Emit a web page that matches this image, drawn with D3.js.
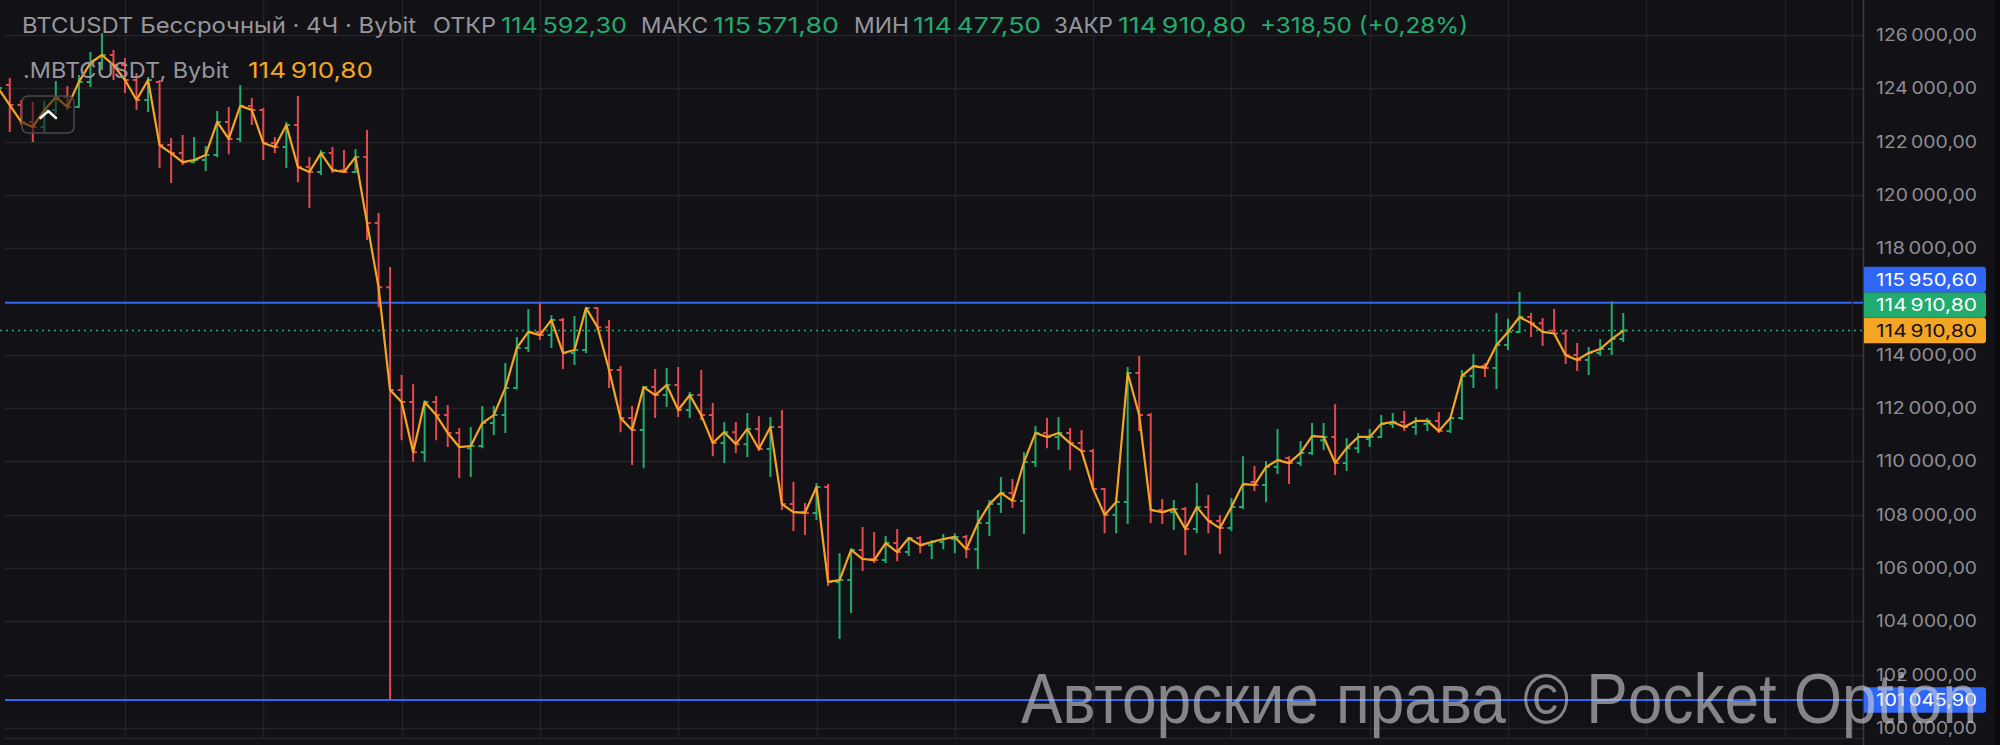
<!DOCTYPE html>
<html><head><meta charset="utf-8">
<script src="https://cdn.jsdelivr.net/npm/d3@7"></script>
<style>html,body{margin:0;padding:0;background:#121216;overflow:hidden}svg{display:block}</style>
</head><body><svg id="c" width="2000" height="745"></svg>
<script>
// ---- data (4H bars, first index -1 is the partially hidden bar at the left edge) ----
const firstIndex = -1;
const opens = [123500,124120,123370,122740,122550,123190,123670,123300,124240,124950,125250,124870,124310,123560,124240,121870,121570,121230,121310,121500,122740,122100,123340,123190,121950,121800,122620,121050,120860,121570,120930,120860,121420,118950,116540,112680,112230,110350,112230,111740,111070,110500,110580,111440,111740,112760,114260,114860,114740,115310,114070,114180,115760,115040,113430,111630,111180,112790,112490,112870,111930,112490,111740,110690,111100,110650,111220,110470,111290,108400,108100,108070,109040,105480,105550,106680,106340,106300,106940,106600,107130,106860,106980,107090,107170,106710,107690,108400,108820,108520,109980,111070,110920,111070,110690,110390,108970,107990,108480,113320,111740,108180,108100,108220,107470,108290,107770,107500,108290,109230,109120,109790,110130,109940,110320,110800,110920,109940,110500,110840,110920,111410,111480,111290,111410,111520,111140,111630,113210,113580,113510,114370,114860,115420,115190,114900,114800,113990,113810,114070,114220,114592.3];
const highs = [124300,124390,123560,123490,123520,124270,124090,124500,125360,126070,125440,125140,124570,124420,124310,122140,122250,122170,121840,123150,123300,124120,123640,123260,122170,122740,123710,121420,121690,121800,121690,121720,122440,119320,117300,113240,112900,112300,112460,112120,111260,111290,112080,112080,113690,114670,115720,115950,115490,115380,115460,115790,115790,115310,113580,112080,112830,113470,113510,113540,112610,113430,112190,111480,111480,111820,111700,111670,111930,109230,108440,109190,109150,106560,106750,107540,107350,107200,107470,107170,107200,107050,107280,107310,107240,108180,108550,109420,109340,110350,111330,111630,111670,111260,111180,110470,109000,108670,113540,113960,111820,108590,108550,108290,109190,108740,107990,108630,110200,109830,110020,111220,110200,110770,111440,111440,112150,110880,111070,111220,111740,111820,111890,111670,111630,111860,111670,113430,114030,113690,115570,115350,116360,115570,115380,115720,114930,114440,114290,114590,116000,115571.8];
const lows = [123300,122360,122620,121990,122360,123040,123190,123260,124050,124690,124310,123820,123190,123110,121010,120450,121120,121200,120900,121420,121530,121990,122620,121310,121570,121010,120480,119510,120750,120820,120820,120820,118310,115790,101045.9,110800,109980,109980,110800,110540,109380,109420,110500,110990,111070,112700,114110,114560,114260,113470,113620,114070,114930,112760,111100,109870,109750,111630,112040,111670,111630,111560,110200,109940,110320,110170,110390,109420,108180,107390,107240,107800,105330,103340,104310,105890,106190,106190,106260,106450,106560,106340,106710,106560,106380,105960,107200,108070,108250,107280,109790,110500,110430,109680,110320,108930,107310,107310,107650,111140,107690,107650,107430,106490,107310,107310,106530,107390,108220,108890,108480,109530,109150,109830,110240,110430,109490,109640,110320,110540,110880,111260,111140,110990,111140,111070,111070,111560,112760,113170,112720,114180,114820,114670,114330,114780,113660,113390,113240,113960,113990,114477.5];
const closes = [124010,123370,122740,122550,123190,123670,123300,124240,124950,125250,124870,124310,123560,124310,121870,121570,121230,121310,121500,122740,122100,123340,123190,121950,121800,122620,121050,120860,121570,120930,120860,121420,118950,116540,112680,112230,110350,112230,111740,111070,110540,110580,111440,111740,112760,114260,114860,114740,115310,114070,114180,115760,115040,113430,111630,111180,112790,112490,112870,111930,112490,111740,110690,111100,110650,111220,110470,111290,108400,108100,108070,109040,105480,105550,106680,106340,106300,106940,106600,107130,106860,106980,107090,107170,106710,107690,108400,108820,108520,109980,111070,110920,111070,110690,110390,108970,107990,108480,113320,111740,108180,108100,108220,107470,108290,107770,107500,108290,109150,109120,109790,110050,109940,110320,110950,110920,109940,110500,110920,110920,111410,111480,111290,111520,111520,111140,111630,113210,113580,113510,114370,114860,115420,115190,114860,114800,113990,113810,114070,114220,114592.3,114910.8];
const priceTicks = [100000,102000,104000,106000,108000,110000,112000,114000,116000,118000,120000,122000,124000,126000];
const levelLines = [115950.6, 101045.9];
const markPrice = 114910.8;
const symbolTitle = "BTCUSDT Бессрочный · 4Ч · Bybit";
const markTitle = ".MBTCUSDT, Bybit";
const watermark = "Авторские права © Pocket Option";

// ---- setup ----
const W = 2000, H = 745, paneRight = 1863;
const C = {bg:"#121216", grid:"#232328", up:"#22ab6e", down:"#e5484d", mark:"#f5a524",
  blue:"#2f66f6", text:"#8d8d93", head:"#96969c", border:"#3c3c42"};
const loc = d3.formatLocale({decimal:",", thousands:"\u2009", grouping:[3], currency:["",""]});
const fmt = loc.format(",.2f");

const bars = opens.map((o,k)=>({i:firstIndex+k, o, h:highs[k], l:lows[k], c:closes[k]}));
const x = d3.scaleLinear().domain([0,140]).range([9.75, 1623.25]);
const y = d3.scaleLinear().domain([100000,126000]).range([728,35]);

const svg = d3.select("#c");
svg.append("rect").attr("width",W).attr("height",H).attr("fill",C.bg);
svg.append("defs").append("clipPath").attr("id","pane").append("rect")
  .attr("x",0).attr("y",0).attr("width",paneRight).attr("height",H);

const pane = svg.append("g").attr("clip-path","url(#pane)");
// grid
pane.append("g").selectAll("line").data(priceTicks).join("line")
  .attr("x1",5).attr("x2",paneRight).attr("y1",d=>Math.round(y(d))+0.5).attr("y2",d=>Math.round(y(d))+0.5)
  .attr("stroke",C.grid).attr("stroke-width",1.3);
const vIdx = d3.range(10, 160, 12);
pane.append("g").selectAll("line").data(vIdx).join("line")
  .attr("x1",d=>Math.round(x(d))+0.5).attr("x2",d=>Math.round(x(d))+0.5).attr("y1",0).attr("y2",738)
  .attr("stroke",C.grid).attr("stroke-width",1.3);
pane.append("line").attr("x1",5).attr("x2",paneRight).attr("y1",738.5).attr("y2",738.5)
  .attr("stroke",C.grid).attr("stroke-width",1.3);

// level lines
pane.append("g").selectAll("line").data(levelLines).join("line")
  .attr("x1",5).attr("x2",paneRight).attr("y1",d=>y(d)).attr("y2",d=>y(d))
  .attr("stroke",C.blue).attr("stroke-width",2);
pane.append("line").attr("x1",0).attr("x2",paneRight).attr("y1",y(markPrice)).attr("y2",y(markPrice))
  .attr("stroke",C.up).attr("stroke-width",1.6).attr("stroke-dasharray","2,4");

// OHLC bars
pane.append("g").selectAll("path").data(bars).join("path")
  .attr("d",d=>{const cx=x(d.i);return `M${cx},${y(d.h)}V${y(d.l)}M${cx-3.8},${y(d.o)}H${cx}M${cx},${y(d.c)}H${cx+3.8}`;})
  .attr("fill","none").attr("stroke",d=>d.c>=d.o?C.up:C.down).attr("stroke-width",2);

// mark price line
pane.append("path").datum(bars)
  .attr("d",d3.line().x(d=>x(d.i)).y(d=>y(d.c)))
  .attr("fill","none").attr("stroke",C.mark).attr("stroke-width",2.2).attr("stroke-linejoin","round");

// header
const last = bars[bars.length-1];
const chg = last.c - last.o, pct = chg/last.o*100;
const sfmt = loc.format("+,.2f");
const head = [
  {t:symbolTitle, x:22, w:394, c:C.head},
  {t:"ОТКР", x:433, w:63, c:C.head},
  {t:fmt(last.o), x:501, w:126, c:C.up},
  {t:"МАКС", x:641, w:67, c:C.head},
  {t:fmt(last.h), x:713, w:126, c:C.up},
  {t:"МИН", x:854, w:55, c:C.head},
  {t:fmt(last.l), x:913, w:128, c:C.up},
  {t:"ЗАКР", x:1054, w:59, c:C.head},
  {t:fmt(last.c), x:1118, w:128, c:C.up},
  {t:`${sfmt(chg)} (${sfmt(pct)}%)`, x:1260, w:208, c:C.up}
];
const hg = svg.append("g").attr("font-family","Inter, 'Noto Sans', sans-serif").attr("font-size",22);
hg.selectAll("text.h1").data(head).join("text").attr("class","h1")
  .attr("x",d=>d.x).attr("y",33).attr("fill",d=>d.c).attr("textLength",d=>d.w)
  .attr("lengthAdjust","spacingAndGlyphs").text(d=>d.t);
hg.append("text").attr("x",23).attr("y",78).attr("fill",C.head).attr("textLength",206)
  .attr("lengthAdjust","spacingAndGlyphs").text(markTitle);
hg.append("text").attr("x",248).attr("y",78).attr("fill",C.mark).attr("textLength",125)
  .attr("lengthAdjust","spacingAndGlyphs").text(fmt(markPrice));

// collapse button
svg.append("rect").attr("x",22).attr("y",96).attr("width",52).attr("height",37).attr("rx",6)
  .attr("fill","rgba(18,18,22,0.55)").attr("stroke","#48484e").attr("stroke-width",1.5);
svg.append("path").attr("d","M40.5,118 L48.3,111 L56,118").attr("fill","none")
  .attr("stroke","#f2f2f2").attr("stroke-width",2.6).attr("stroke-linecap","round").attr("stroke-linejoin","round");

// price axis
svg.append("rect").attr("x",paneRight).attr("y",0).attr("width",W-paneRight).attr("height",H).attr("fill",C.bg);
svg.append("rect").attr("x",1995).attr("y",0).attr("width",5).attr("height",H).attr("fill","#0b0b0d");
svg.append("line").attr("x1",1852.5).attr("x2",1852.5).attr("y1",0).attr("y2",738).attr("stroke",C.grid).attr("stroke-width",1.3);
svg.append("line").attr("x1",paneRight+0.5).attr("x2",paneRight+0.5).attr("y1",0).attr("y2",H).attr("stroke",C.border).attr("stroke-width",1.5);
const axis = d3.axisRight(y).tickValues(priceTicks).tickSize(0).tickPadding(0).tickFormat(fmt);
const ag = svg.append("g").attr("transform","translate(1977,0)").call(axis);
ag.select(".domain").remove();
ag.selectAll("text").attr("text-anchor","end").attr("fill",C.text).attr("font-size",17)
  .attr("font-family","Inter, 'Noto Sans', sans-serif").attr("textLength",101).attr("lengthAdjust","spacingAndGlyphs");

// price labels (stacked to avoid overlap)
const labels = [
  {v:markPrice, bg:C.mark, fg:"#111111"},
  {v:last.c, bg:C.up, fg:"#ffffff"},
  {v:levelLines[0], bg:C.blue, fg:"#ffffff"},
  {v:levelLines[1], bg:C.blue, fg:"#ffffff"}
];
const lh = 25.5;
let prevTop = Infinity;
labels.forEach((d,k)=>{ let cy = y(d.v); if (k>0 && k<3 && cy + lh/2 > prevTop) cy = prevTop - lh/2; d.cy = cy; if(k<3) prevTop = cy - lh/2; });
const lg = svg.append("g").selectAll("g").data(labels).join("g");
lg.append("path").attr("d",d=>{const t=d.cy-lh/2,b=d.cy+lh/2,l=paneRight+1,r=1986,rr=3;
  return `M${l},${t}H${r-rr}Q${r},${t} ${r},${t+rr}V${b-rr}Q${r},${b} ${r-rr},${b}H${l}Z`;})
  .attr("fill",d=>d.bg);
lg.append("text").attr("x",1977).attr("y",d=>d.cy).attr("dy","0.36em").attr("text-anchor","end")
  .attr("font-family","Inter, 'Noto Sans', sans-serif").attr("font-size",17).attr("fill",d=>d.fg)
  .attr("textLength",101).attr("lengthAdjust","spacingAndGlyphs").text(d=>fmt(d.v));

// watermark
svg.append("text").attr("x",1021).attr("y",723).attr("font-family","'Liberation Sans', Arial, sans-serif")
  .attr("font-size",70).attr("fill","rgba(205,205,208,0.62)").attr("textLength",956)
  .attr("lengthAdjust","spacingAndGlyphs").text(watermark);
</script></body></html>
